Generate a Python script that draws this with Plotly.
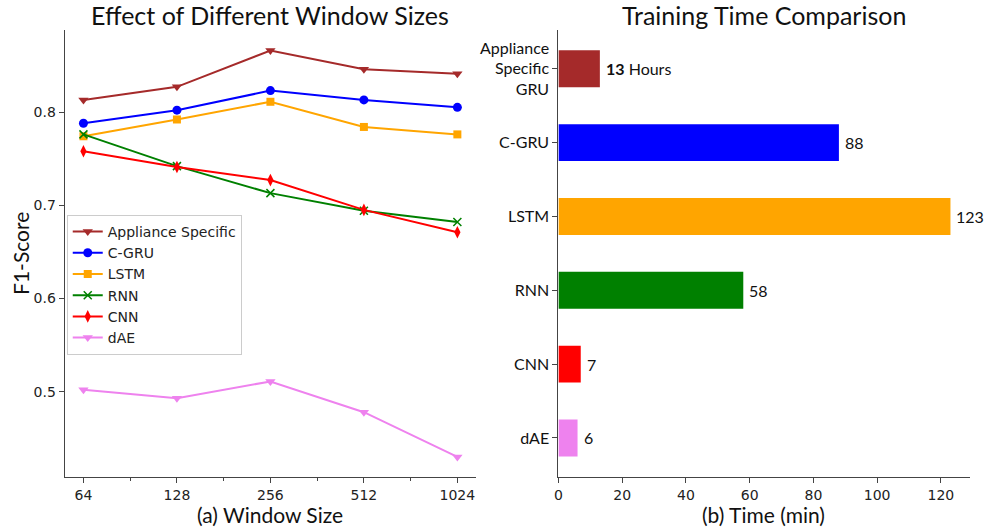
import math
import plotly.graph_objects as go

# ---- data -------------------------------------------------------------
window_sizes = [64, 128, 256, 512, 1024]
series_names = ["Appliance Specific", "C-GRU", "LSTM", "RNN", "CNN", "dAE"]
f1_appliance_specific = [0.813, 0.827, 0.866, 0.846, 0.841]
f1_cgru = [0.788, 0.802, 0.823, 0.813, 0.805]
f1_lstm = [0.774, 0.792, 0.811, 0.784, 0.776]
f1_rnn = [0.776, 0.742, 0.713, 0.694, 0.682]
f1_cnn = [0.758, 0.741, 0.727, 0.695, 0.671]
f1_dae = [0.502, 0.493, 0.511, 0.478, 0.430]

model_labels = ["Appliance<br>Specific<br>GRU", "C-GRU", "LSTM", "RNN", "CNN", "dAE"]
training_time = [13, 88, 123, 58, 7, 6]
time_labels = ["<b>13</b> Hours", "88", "123", "58", "7", "6"]

# ---- styles -----------------------------------------------------------
colors = ["#A52A2A", "#0000FF", "#FFA500", "#008000", "#FF0000", "#EE82EE"]
symbols = ["triangle-down", "circle", "square", "x-thin", "diamond-tall", "triangle-down"]
marker_sizes = [9, 9, 8, 8, 9, 9]

W, H = 984, 529
TEXT_FONT = "Lato"
TICK_FONT = "DejaVu Sans"
AXIS_COLOR = "#444444"


def px_x(p):
    return p / W


def px_y(p):
    return 1 - p / H


fig = go.Figure()

f1_series = [f1_appliance_specific, f1_cgru, f1_lstm, f1_rnn, f1_cnn, f1_dae]
for name, vals, col, sym, ms in zip(series_names, f1_series, colors, symbols, marker_sizes):
    fig.add_trace(go.Scatter(
        x=window_sizes, y=vals, name=name, mode="lines+markers",
        line=dict(color=col, width=2),
        marker=dict(symbol=sym, size=ms, color=col,
                    line=dict(color=col, width=1.5 if sym == "x-thin" else 0)),
        xaxis="x", yaxis="y", cliponaxis=False,
    ))

fig.add_trace(go.Bar(
    x=training_time, y=model_labels, orientation="h",
    marker=dict(color=colors, line=dict(width=0)),
    width=0.5, showlegend=False, xaxis="x2", yaxis="y2",
))

for lbl, t, v in zip(model_labels, time_labels, training_time):
    fig.add_annotation(x=v, y=lbl, xref="x2", yref="y2", text=t,
                       xanchor="left", yanchor="middle", xshift=4, showarrow=False,
                       font=dict(family=TEXT_FONT, size=16, color="#111111"))

# titles and axis labels
for txt, xc, yc, size in [
    ("Effect of Different Window Sizes", 267, 15, 25),
    ("Training Time Comparison", 763, 15, 25),
    ("(a) Window Size", 267, 514, 21),
    ("(b) Time (min)", 763, 514, 21),
]:
    fig.add_annotation(x=px_x(xc), y=px_y(yc), xref="paper", yref="paper", text=txt,
                       xanchor="center", yanchor="middle", showarrow=False,
                       font=dict(family=TEXT_FONT, size=size, color="#111111"))
fig.add_annotation(x=px_x(16), y=px_y(253), xref="paper", yref="paper", text="F1-Score",
                   textangle=-90, xanchor="center", yanchor="middle", showarrow=False,
                   font=dict(family=TEXT_FONT, size=21, color="#111111"))

lo, hi = math.log2(64) - 0.2, math.log2(1024) + 0.2
y_bottom, y_top = 476.7, 30

fig.update_layout(
    width=W, height=H, margin=dict(l=0, r=0, t=0, b=0),
    paper_bgcolor="white", plot_bgcolor="white",
    xaxis=dict(
        domain=[px_x(61), px_x(474)], type="log",
        range=[lo * math.log10(2), hi * math.log10(2)],
        tickvals=window_sizes, ticktext=[str(w) for w in window_sizes],
        ticks="outside", ticklen=5, tickcolor=AXIS_COLOR, showgrid=False, zeroline=False,
        showline=True, linecolor=AXIS_COLOR, linewidth=1.2,
        minor=dict(tickvals=[90.5, 181, 362, 724], ticks="outside", ticklen=3,
                   tickcolor=AXIS_COLOR, showgrid=False),
        tickfont=dict(family=TICK_FONT, size=14, color="#222222"),
        anchor="y",
    ),
    yaxis=dict(
        domain=[px_y(y_bottom), px_y(y_top)], range=[0.4088, 0.888],
        tickvals=[0.5, 0.6, 0.7, 0.8], ticktext=["0.5", "0.6", "0.7", "0.8"],
        ticks="outside", ticklen=5, tickcolor=AXIS_COLOR, showgrid=False, zeroline=False,
        showline=True, linecolor=AXIS_COLOR, linewidth=1.2,
        tickfont=dict(family=TICK_FONT, size=14, color="#222222"),
        anchor="x",
    ),
    xaxis2=dict(
        domain=[px_x(556.7), px_x(970)], range=[0, 129.15],
        tickvals=[0, 20, 40, 60, 80, 100, 120],
        ticks="outside", ticklen=5, tickcolor=AXIS_COLOR, showgrid=False, zeroline=False,
        showline=True, linecolor=AXIS_COLOR, linewidth=1.2,
        tickfont=dict(family=TICK_FONT, size=14, color="#222222"),
        anchor="y2",
    ),
    yaxis2=dict(
        domain=[px_y(y_bottom), px_y(y_top)],
        categoryorder="array", categoryarray=model_labels[::-1],
        range=[-0.525, 5.525],
        ticks="outside", ticklen=5, tickcolor=AXIS_COLOR, showgrid=False, zeroline=False,
        showline=True, linecolor=AXIS_COLOR, linewidth=1.2,
        tickfont=dict(family=TEXT_FONT, size=16, color="#111111"),
        anchor="x2",
    ),
    legend=dict(
        x=px_x(63), y=px_y(215), xanchor="left", yanchor="top",
        bgcolor="white", bordercolor="#cccccc", borderwidth=1,
        font=dict(family=TICK_FONT, size=14, color="#222222"),
        tracegroupgap=0, itemwidth=30,
    ),
    showlegend=True,
)

fig.write_html("out.html")
